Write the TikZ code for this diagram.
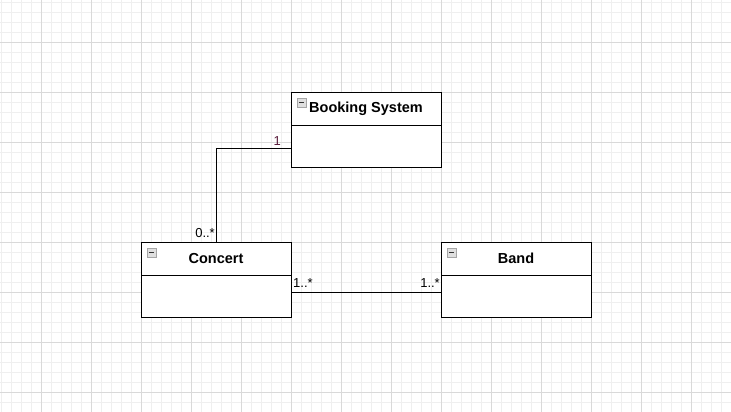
\documentclass[tikz,border=0pt]{standalone}
\usepackage{fontspec}
\setmainfont{Liberation Sans}
\usetikzlibrary{positioning}
\definecolor{minorgrid}{HTML}{EFEFEF}
\definecolor{majorgrid}{HTML}{D9D9D9}
\definecolor{multcol}{HTML}{5A1E3C}
\tikzset{
  classhead/.style={draw, line width=1pt, minimum width=150pt, minimum height=33pt,
    inner sep=0pt, outer sep=0pt, font=\bfseries\fontsize{14.5pt}{16pt}\selectfont},
  classbody/.style={draw, line width=1pt, minimum width=150pt, minimum height=42pt,
    inner sep=0pt, outer sep=0pt},
  mult/.style={font=\fontsize{13pt}{15pt}\selectfont, inner sep=0pt},
  collapse/.style={draw=gray!70, fill=gray!25, minimum size=9pt, inner sep=0pt, outer sep=0pt}
}
\newcommand{\collapsebox}[1]{%
  \node[collapse, anchor=north west] (#1icon) at ([xshift=6pt,yshift=-6pt]#1head.north west) {};
  \draw[gray!40!black, line width=1.2pt] ([xshift=-2.5pt]#1icon.center) -- ([xshift=2.5pt]#1icon.center);}
\begin{document}
\begin{tikzpicture}[x=1pt,y=-1pt]
  \useasboundingbox (0,0) rectangle (731,412);
  \fill[white] (0,0) rectangle (731,412);
  % background grid
  \foreach \gx in {1,11,...,731} \draw[minorgrid, line width=0.75pt] (\gx,0) -- (\gx,412);
  \foreach \gy in {2,12,...,412} \draw[minorgrid, line width=0.75pt] (0,\gy) -- (731,\gy);
  \foreach \gx in {41,91,...,731} \draw[majorgrid, line width=0.75pt] (\gx,0) -- (\gx,412);
  \foreach \gy in {42,92,...,412} \draw[majorgrid, line width=0.75pt] (0,\gy) -- (731,\gy);

  % classes
  \node[classhead, fill=white] (bookhead) at (366,108.5) {Booking System};
  \node[classbody, fill=white, below=0pt of bookhead] (bookbody) {};
  \node[classhead, fill=white] (conhead) at (216,258.5) {Concert};
  \node[classbody, fill=white, below=0pt of conhead] (conbody) {};
  \node[classhead, fill=white] (bandhead) at (516,258.5) {Band};
  \node[classbody, fill=white, below=0pt of bandhead] (bandbody) {};
  \collapsebox{book}
  \collapsebox{con}
  \collapsebox{band}

  % associations
  \draw[line width=1pt] ([yshift=-2pt]bookbody.west) -| (conhead.north);
  \draw[line width=1pt] ([yshift=4pt]conbody.east) -- ([yshift=4pt]bandbody.west);

  \node[mult, text=multcol, anchor=south east] (m1) at ([xshift=-10pt]bookbody.west) {1};
  \node[mult, anchor=south east] (m2) at ([xshift=-1pt,yshift=4pt]conhead.north) {0..*};
  \node[mult, anchor=south west] (m3) at ([xshift=2pt,yshift=8pt]conbody.east) {1..*};
  \node[mult, anchor=south east] (m4) at ([xshift=-1pt,yshift=8pt]bandbody.west) {1..*};
\end{tikzpicture}
\end{document}
